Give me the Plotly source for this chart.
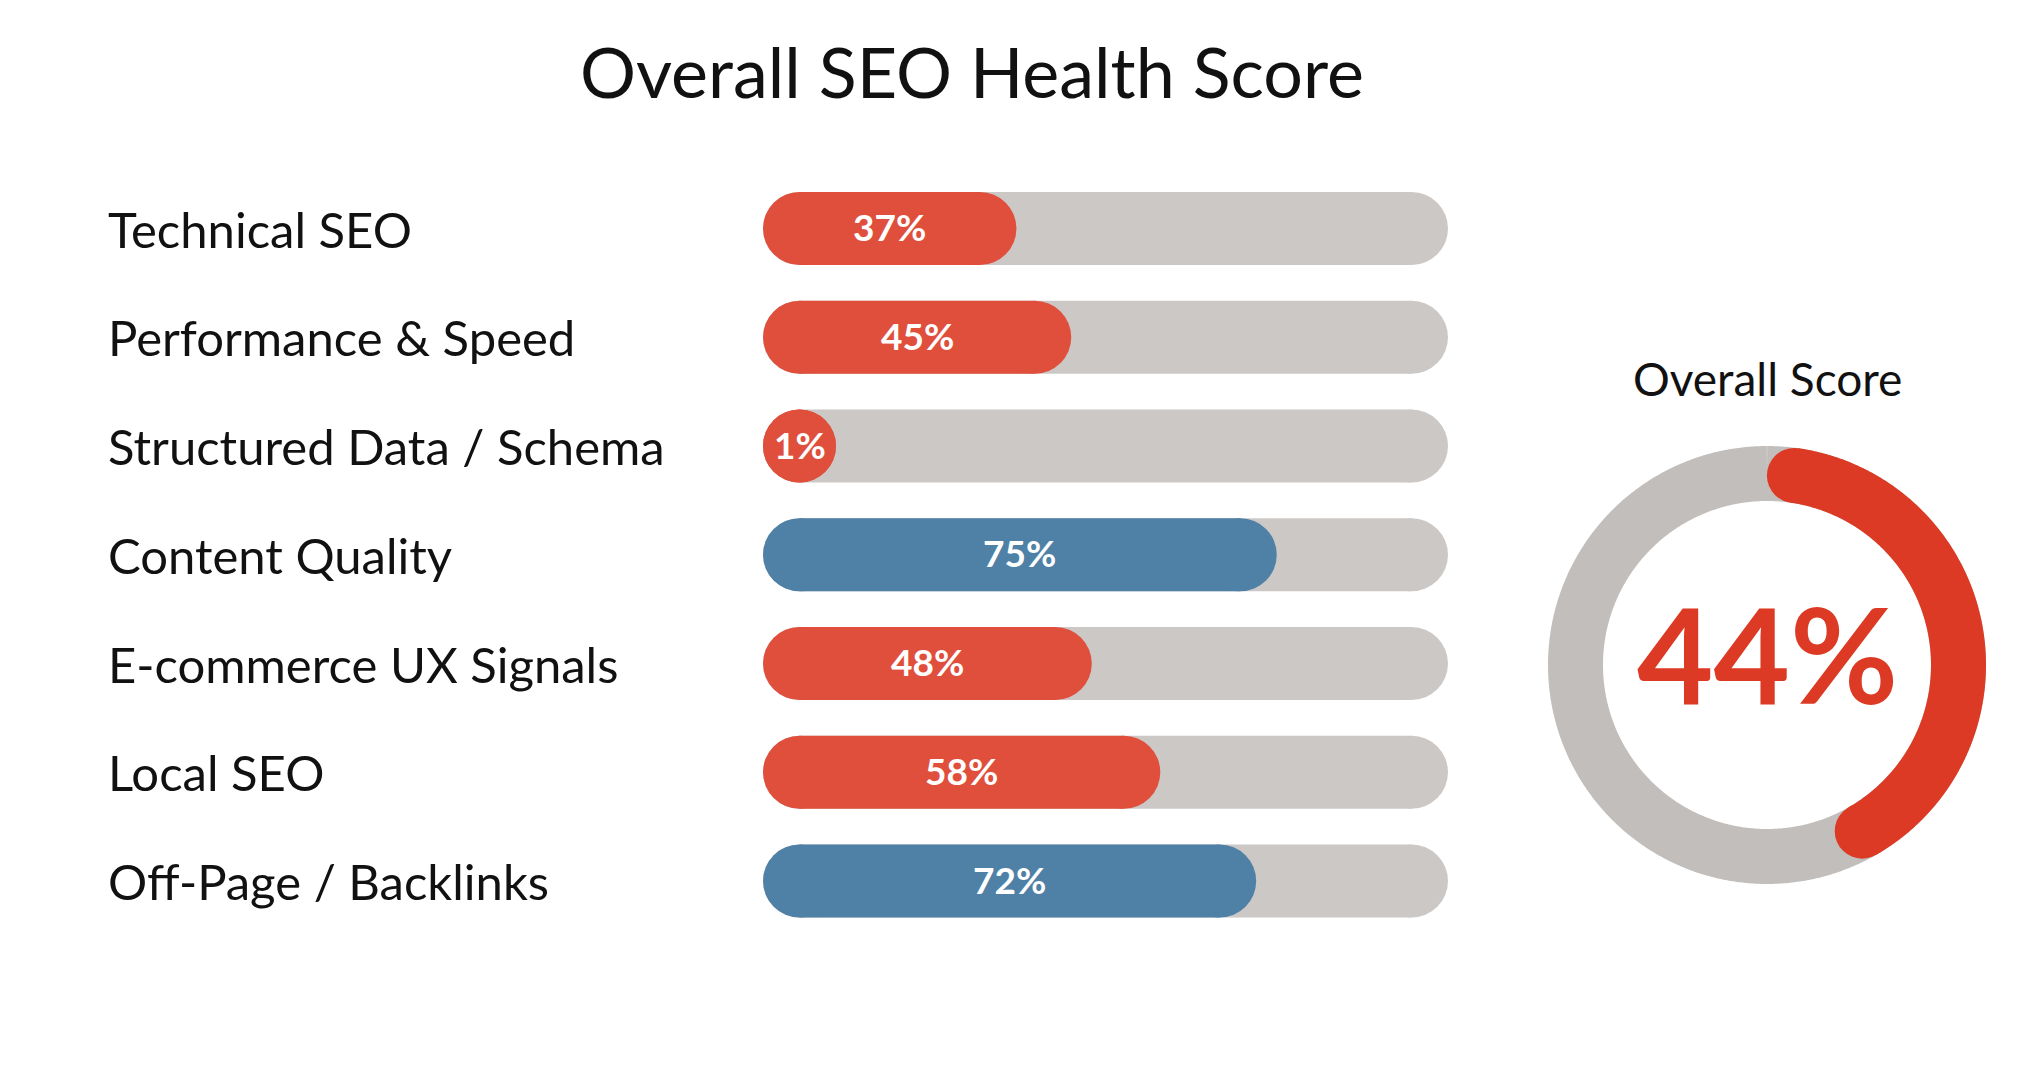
import numpy as np
import plotly.graph_objects as go

# ---------------- data ----------------
categories = [
    "Technical SEO",
    "Performance & Speed",
    "Structured Data / Schema",
    "Content Quality",
    "E-commerce UX Signals",
    "Local SEO",
    "Off-Page / Backlinks",
]
scores = [37, 45, 1, 75, 48, 58, 72]
score_labels = ["37%", "45%", "1%", "75%", "48%", "58%", "72%"]
overall_score = 44
overall_label = "44%"
title_text = "Overall SEO Health Score"
overall_title = "Overall Score"

# ---------------- style ----------------
W, H = 2022, 1072
RED = "#E04F3C"
BLUE = "#4F81A7"
TRACK = "#CCC8C6"
RING_GREY = "#C1BEBC"
RING_RED = "#DC3A24"
TXT = "#111111"
FONT = "Lato"
good_threshold = 70  # scores at/above this are drawn blue

# bar panel geometry (pixels)
bx0, bx1 = 763, 1448
row_top, row_bot = 228.5, 881.0
n = len(categories)
pitch = (row_bot - row_top) / (n - 1)
bar_px = 73
dom_top = row_top - pitch / 2
dom_bot = row_bot + pitch / 2
cap_u = 100 * (bar_px / 2) / (bx1 - bx0)   # pill cap radius in axis units

# donut geometry (pixels)
cx, cy = 1767, 665
r_out, r_in = 219, 164
ring_w = r_out - r_in
r_mid = (r_out + r_in) / 2
half = 250

fig = go.Figure()


def pill(cat, length, color):
    a = cap_u
    b = max(length - cap_u, cap_u)
    fig.add_trace(go.Scatter(
        x=[a, b], y=[cat, cat], mode="lines+markers",
        line=dict(color=color, width=bar_px),
        marker=dict(color=color, size=bar_px, line=dict(width=0)),
        hoverinfo="skip", showlegend=False, xaxis="x", yaxis="y",
    ))


# track pills
for c in categories:
    pill(c, 100, TRACK)

# value pills
lengths = [max(s, 2 * cap_u) for s in scores]
for c, l, s in zip(categories, lengths, scores):
    pill(c, l, BLUE if s >= good_threshold else RED)

# value labels centred on the coloured part
for c, l, t in zip(categories, lengths, score_labels):
    fig.add_annotation(
        x=l / 2, xref="x", xanchor="center",
        y=c, yref="y", yanchor="middle", yshift=2,
        text=t, showarrow=False,
        font=dict(family=FONT, size=37, color="white", weight="bold"),
    )

# category labels
for c in categories:
    fig.add_annotation(
        x=106 / W, xref="paper", xanchor="left",
        y=c, yref="y", yanchor="middle",
        text=c, showarrow=False,
        font=dict(family=FONT, size=49, color=TXT),
    )

# ---------------- donut ----------------
t_full = np.linspace(0, 2 * np.pi, 721)
fig.add_trace(go.Scatter(
    x=r_mid * np.sin(t_full), y=r_mid * np.cos(t_full), mode="lines",
    line=dict(color=RING_GREY, width=ring_w, simplify=False), hoverinfo="skip",
    showlegend=False, xaxis="x2", yaxis="y2",
))
cap = ring_w / 2 / r_mid
t_end = 2 * np.pi * overall_score / 100
t_arc = np.linspace(cap, t_end - cap, 400)
fig.add_trace(go.Scatter(
    x=r_mid * np.sin(t_arc), y=r_mid * np.cos(t_arc), mode="lines",
    line=dict(color=RING_RED, width=ring_w, simplify=False), hoverinfo="skip",
    showlegend=False, xaxis="x2", yaxis="y2",
))
fig.add_trace(go.Scatter(
    x=[r_mid * np.sin(cap), r_mid * np.sin(t_end - cap)],
    y=[r_mid * np.cos(cap), r_mid * np.cos(t_end - cap)],
    mode="markers", marker=dict(color=RING_RED, size=ring_w, line=dict(width=0)),
    hoverinfo="skip", showlegend=False, xaxis="x2", yaxis="y2",
))

fig.add_annotation(
    x=cx / W, xref="paper", xanchor="center",
    y=1 - 653 / H, yref="paper", yanchor="middle",
    text=overall_label, showarrow=False,
    font=dict(family=FONT, size=132, color=RING_RED, weight="bold"),
)
fig.add_annotation(
    x=cx / W, xref="paper", xanchor="center",
    y=1 - 378 / H, yref="paper", yanchor="middle",
    text=overall_title, showarrow=False,
    font=dict(family=FONT, size=46, color=TXT),
)
fig.add_annotation(
    x=972 / W, xref="paper", xanchor="center",
    y=1 - 71 / H, yref="paper", yanchor="middle",
    text=title_text, showarrow=False,
    font=dict(family=FONT, size=70, color=TXT),
)

fig.update_layout(
    width=W, height=H, margin=dict(l=0, r=0, t=0, b=0),
    paper_bgcolor="white", plot_bgcolor="rgba(0,0,0,0)",
    showlegend=False,
    xaxis=dict(domain=[bx0 / W, bx1 / W], range=[0, 100], visible=False,
               fixedrange=True),
    yaxis=dict(domain=[1 - dom_bot / H, 1 - dom_top / H], type="category",
               categoryorder="array", categoryarray=categories,
               range=[n - 0.5, -0.5], visible=False, fixedrange=True),
    xaxis2=dict(domain=[(cx - half) / W, (cx + half) / W], range=[-half, half],
                visible=False, anchor="y2", fixedrange=True),
    yaxis2=dict(domain=[1 - (cy + half) / H, 1 - (cy - half) / H],
                range=[-half, half], visible=False, anchor="x2", fixedrange=True),
)

fig.write_html("out.html")
